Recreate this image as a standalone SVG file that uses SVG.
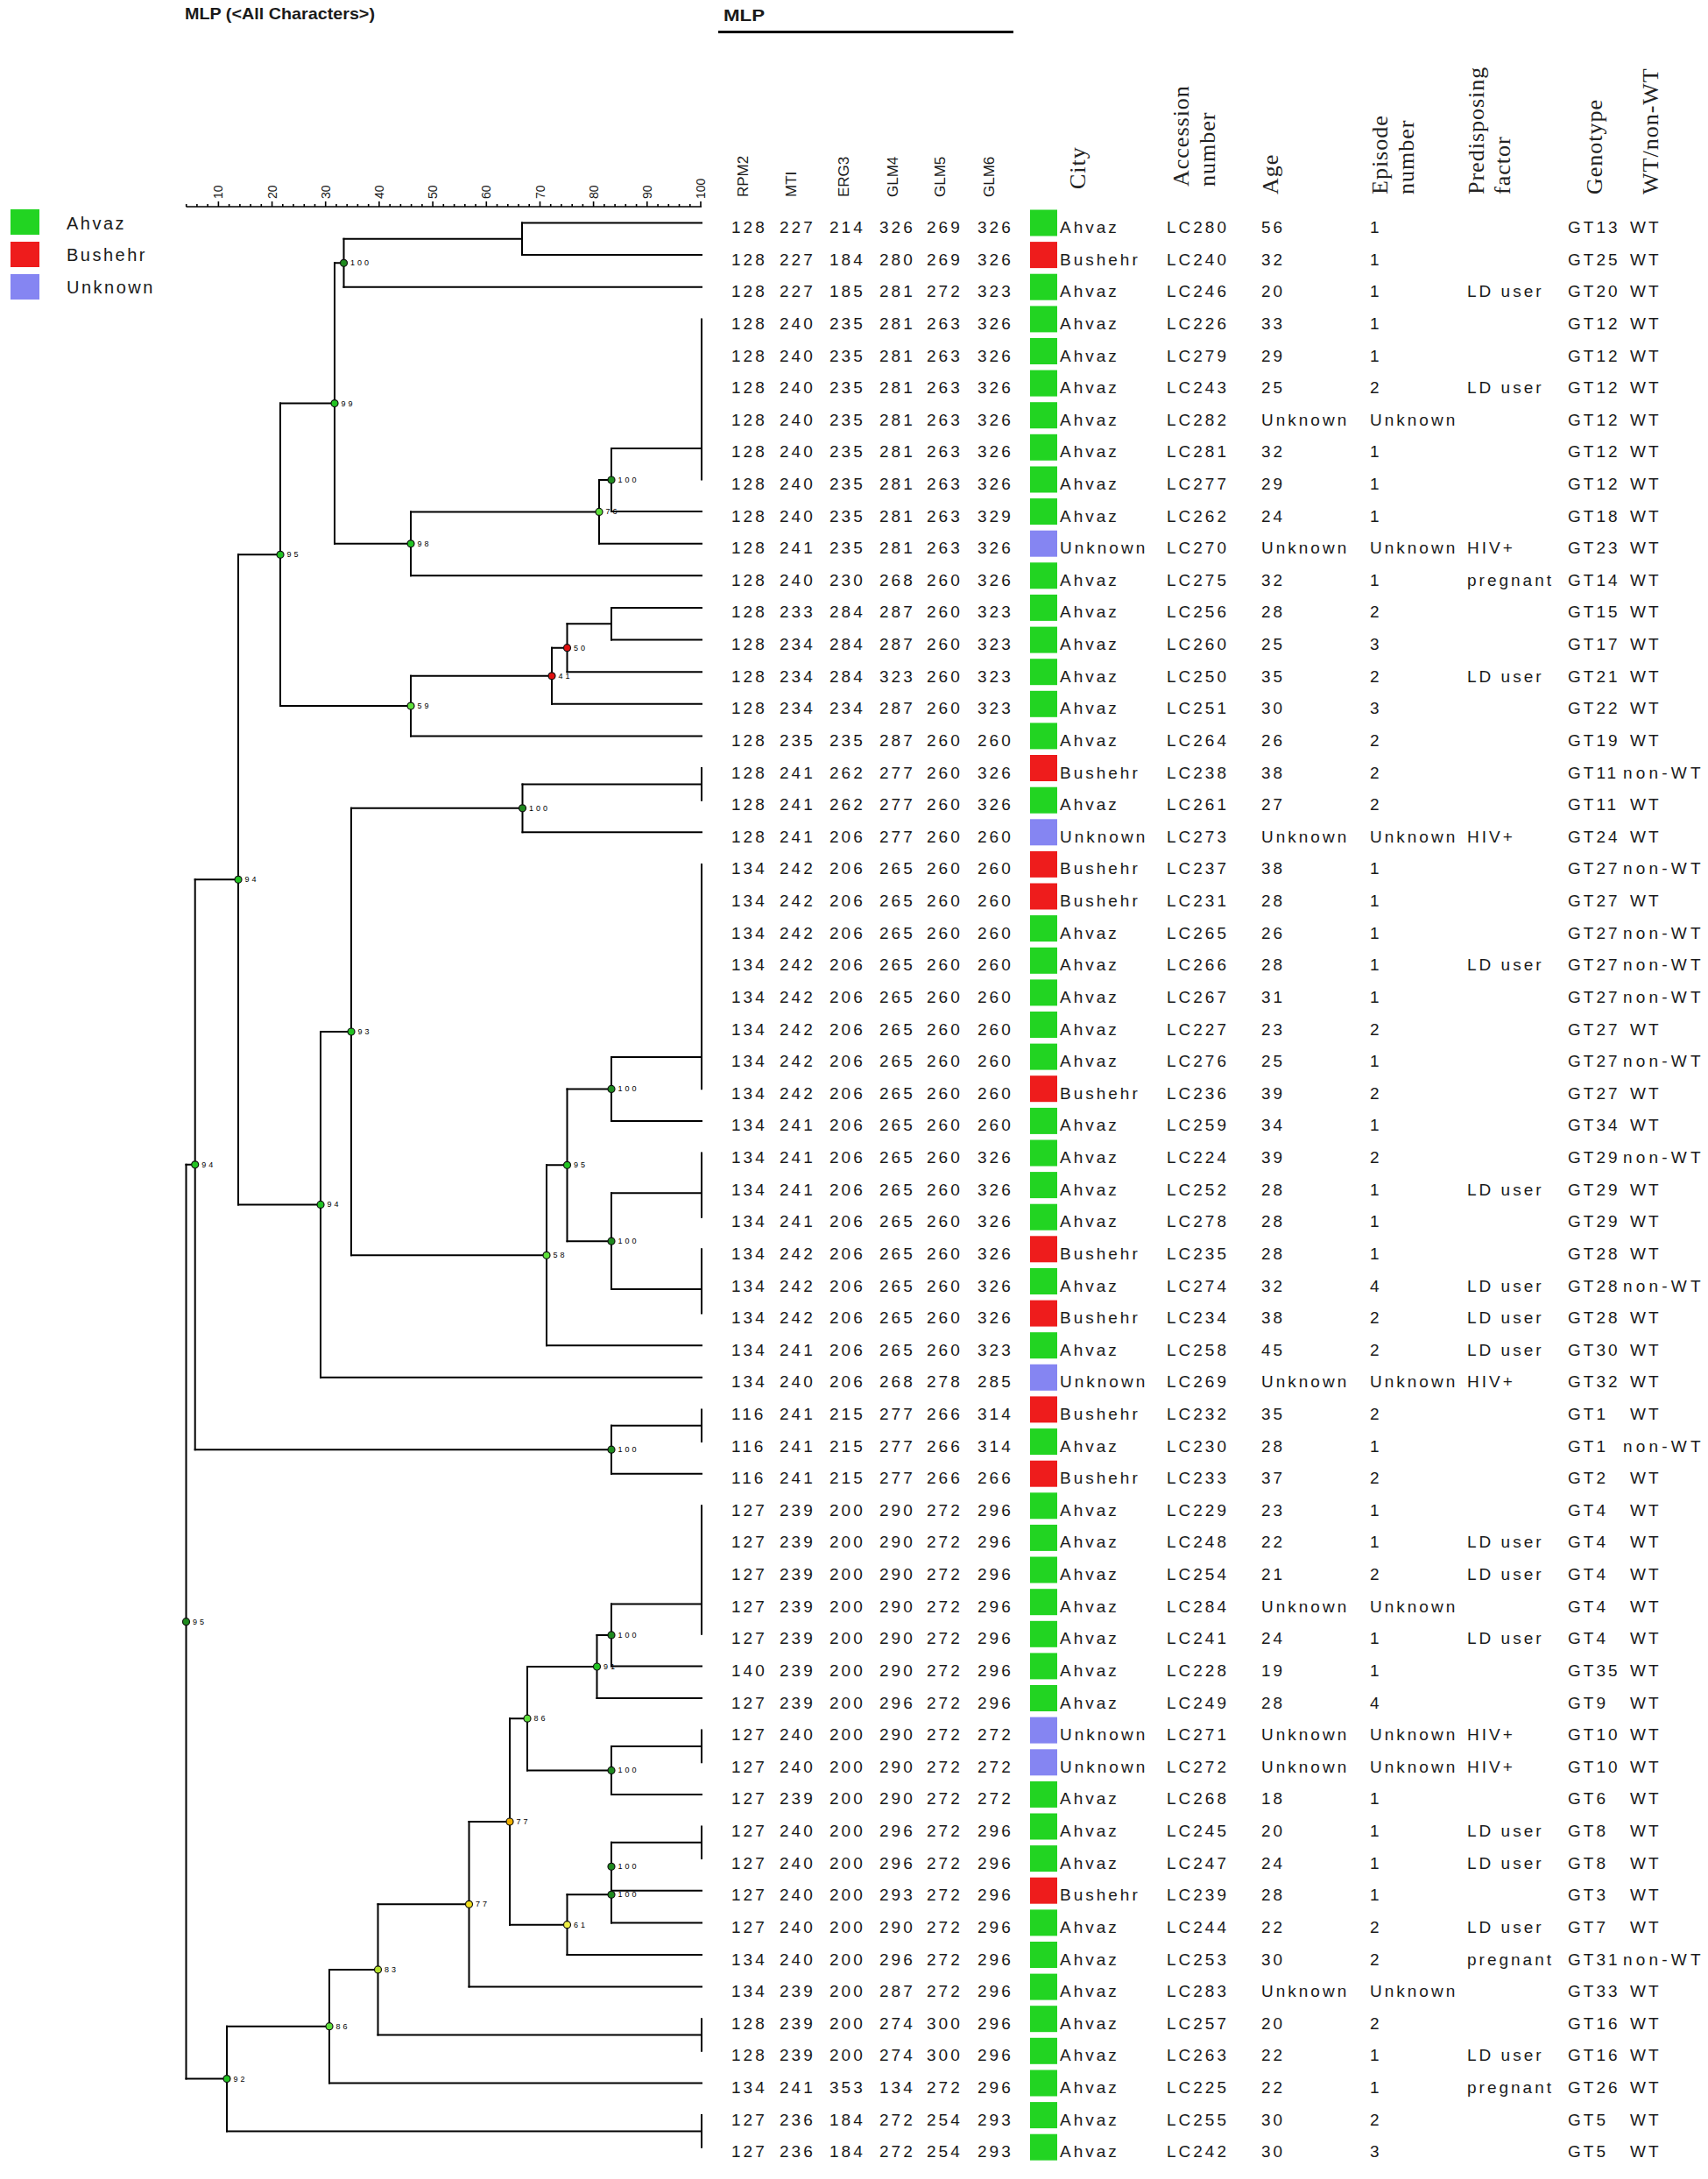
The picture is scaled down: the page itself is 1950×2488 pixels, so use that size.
<svg xmlns="http://www.w3.org/2000/svg" width="1950" height="2488" viewBox="0 0 1950 2488">
<style>
.ln{stroke:#000;stroke-width:2;fill:none;stroke-linecap:square}
.ax{stroke:#000;stroke-width:1.6;fill:none}
.nd{stroke:#111;stroke-width:1.2}
.bl{font-family:"Liberation Sans",Arial,sans-serif;font-size:9px;letter-spacing:3px;fill:#000}
.t{font-family:"Liberation Sans",Arial,sans-serif;font-size:19px;letter-spacing:3px;fill:#1a1a1a}
.nw{letter-spacing:4.2px}
.lg{font-family:"Liberation Sans",Arial,sans-serif;font-size:20px;letter-spacing:2.5px;fill:#1a1a1a}
.hs{font-family:"Liberation Sans",Arial,sans-serif;font-size:17px;fill:#1a1a1a}
.h{font-family:"Liberation Serif","Times New Roman",serif;font-size:26px;letter-spacing:1px;fill:#222}
.tt{font-family:"Liberation Sans",Arial,sans-serif;font-size:19px;font-weight:bold;fill:#1a1a1a}
.al{font-family:"Liberation Sans",Arial,sans-serif;font-size:14px;fill:#1a1a1a}
.ah{fill:#22d422}.bu{fill:#ee1c1c}.un{fill:#8585f2}
.c100{fill:#1e8a1e}.c9{fill:#22c322}.c8{fill:#5ee03a}.c83{fill:#b5e02a}.cy{fill:#f2e01e}.co{fill:#f0b000}.c6{fill:#eeee44}.cr{fill:#e01010}
</style>

<g id="titles">
<text class="tt" x="211" y="22" textLength="217" lengthAdjust="spacingAndGlyphs">MLP (&lt;All Characters&gt;)</text>
<text class="tt" x="826" y="24" textLength="47" lengthAdjust="spacingAndGlyphs">MLP</text>
<path d="M820 36.5H1157" stroke="#000" stroke-width="3"/>
</g>

<g id="legend">
<rect class="ah" x="12" y="239" width="33" height="29"/>
<rect class="bu" x="12" y="276" width="33" height="29"/>
<rect class="un" x="12" y="313" width="33" height="29"/>
<text class="lg" x="76" y="262">Ahvaz</text>
<text class="lg" x="76" y="298">Bushehr</text>
<text class="lg" x="76" y="335">Unknown</text>
</g>

<g id="scale">
<path class="ax" d="M212.5 236H801M249.4 230V236M310.6 230V236M371.7 230V236M432.9 230V236M494.1 230V236M555.3 230V236M616.5 230V236M677.6 230V236M738.8 230V236M800 230V236M212.7 233V236M224.9 233V236M237.1 233V236M261.6 233V236M273.9 233V236M286.1 233V236M298.3 233V236M322.8 233V236M335 233V236M347.3 233V236M359.5 233V236M384 233V236M396.2 233V236M408.4 233V236M420.7 233V236M445.2 233V236M457.4 233V236M469.6 233V236M481.9 233V236M506.3 233V236M518.6 233V236M530.8 233V236M543 233V236M567.5 233V236M579.8 233V236M592 233V236M604.2 233V236M628.7 233V236M640.9 233V236M653.2 233V236M665.4 233V236M689.9 233V236M702.1 233V236M714.3 233V236M726.6 233V236M751.1 233V236M763.3 233V236M775.5 233V236M787.8 233V236"/>
<text class="al" transform="translate(254.4,227) rotate(-90)">10</text>
<text class="al" transform="translate(315.6,227) rotate(-90)">20</text>
<text class="al" transform="translate(376.7,227) rotate(-90)">30</text>
<text class="al" transform="translate(437.9,227) rotate(-90)">40</text>
<text class="al" transform="translate(499.1,227) rotate(-90)">50</text>
<text class="al" transform="translate(560.3,227) rotate(-90)">60</text>
<text class="al" transform="translate(621.5,227) rotate(-90)">70</text>
<text class="al" transform="translate(682.6,227) rotate(-90)">80</text>
<text class="al" transform="translate(743.8,227) rotate(-90)">90</text>
<text class="al" transform="translate(805,227) rotate(-90)">100</text>
</g>

<g id="headers">
<text class="hs" transform="translate(854,225) rotate(-90)">RPM2</text>
<text class="hs" transform="translate(909,225) rotate(-90)">MTI</text>
<text class="hs" transform="translate(969,225) rotate(-90)">ERG3</text>
<text class="hs" transform="translate(1025,225) rotate(-90)">GLM4</text>
<text class="hs" transform="translate(1079,225) rotate(-90)">GLM5</text>
<text class="hs" transform="translate(1135,225) rotate(-90)">GLM6</text>
<text class="h" transform="translate(1238.5,216) rotate(-90)">City</text>
<text class="h" transform="translate(1357,213) rotate(-90)">Accession</text>
<text class="h" transform="translate(1387,213) rotate(-90)">number</text>
<text class="h" transform="translate(1458.5,222) rotate(-90)">Age</text>
<text class="h" transform="translate(1583.5,222) rotate(-90)">Episode</text>
<text class="h" transform="translate(1614,222) rotate(-90)">number</text>
<text class="h" transform="translate(1693.5,222) rotate(-90)">Predisposing</text>
<text class="h" transform="translate(1724,222) rotate(-90)">factor</text>
<text class="h" transform="translate(1828.5,222) rotate(-90)">Genotype</text>
<text class="h" transform="translate(1893,222) rotate(-90)">WT/non-WT</text>
</g>

<g id="connectors">
<path class="ln" d="M596 254.5V291.1M392.5 272.8V327.7M382 300.3V620.8M801 364.4V547.5M698 512V584.1M684 548V620.7M469 584.4V657.3M698 693.9V730.6M647.5 712.2V767.2M630 739.7V803.8M469 771.8V840.4M320 460.6V806.1M801 877V913.7M596.5 895.4V950.3M801 986.9V1243.2M698 1206.9V1279.9M801 1316.5V1389.7M801 1426.3V1499.6M698 1362.3V1472.1M647.5 1243.4V1417.2M624 1330.3V1536.2M401 922.8V1433.3M366 1178V1572.8M272 633.3V1375.4M801 1609.4V1646.1M698 1627.8V1682.7M222.7 1004.3V1655.2M801 1719.3V1865.8M698 1831.4V1902.4M681.5 1866.9V1939M801 1975.6V2012.3M698 1994V2048.9M602 1903V2021.4M801 2085.5V2122.1M698 2103.8V2195.4M647.5 2163.3V2232M582 1962.2V2197.7M535.5 2080V2268.6M801 2305.2V2341.8M431.5 2174.3V2323.5M376 2248.9V2378.5M801 2415.1V2451.7M259 2313.7V2433.4M212.5 1329.8V2373.6"/>
<path class="ln" d="M596 254.5H801M596 291.1H801M392.5 272.8H596M392.5 327.7H801M382 300.3H392.5M382 620.8H469M698 512H801M698 584.1H801M684 548H698M684 620.7H801M469 584.4H684M469 657.3H801M698 693.9H801M698 730.6H801M647.5 712.2H698M647.5 767.2H801M630 739.7H647.5M630 803.8H801M469 771.8H630M469 840.4H801M320 460.6H382M320 806.1H469M596.5 895.4H801M596.5 950.3H801M698 1206.9H801M698 1279.9H801M698 1362.3H801M698 1472.1H801M647.5 1243.4H698M647.5 1417.2H698M624 1330.3H647.5M624 1536.2H801M401 922.8H596.5M401 1433.3H624M366 1178H401M366 1572.8H801M272 633.3H320M272 1375.4H366M698 1627.8H801M698 1682.7H801M222.7 1004.3H272M222.7 1655.2H698M698 1831.4H801M698 1902.4H801M681.5 1866.9H698M681.5 1939H801M698 1994H801M698 2048.9H801M602 1903H681.5M602 2021.4H698M698 2103.8H801M698 2158.7H801M698 2195.4H801M647.5 2163.3H698M647.5 2232H801M582 1962.2H602M582 2197.7H647.5M535.5 2080H582M535.5 2268.6H801M431.5 2174.3H535.5M431.5 2323.5H801M376 2248.9H431.5M376 2378.5H801M259 2313.7H376M259 2433.4H801M212.5 1329.8H222.7M212.5 2373.6H259"/>
</g>

<g id="nodes">
<g id="n-B"><circle class="nd c100" cx="392.5" cy="300.3" r="4"/><text class="bl" x="400" y="303.3">100</text></g>
<g id="n-C"><circle class="nd c9" cx="382" cy="460.6" r="4"/><text class="bl" x="389.5" y="463.6">99</text></g>
<g id="n-D"><circle class="nd c9" cx="469" cy="620.8" r="4"/><text class="bl" x="476.5" y="623.8">98</text></g>
<g id="n-F"><circle class="nd c100" cx="698" cy="548" r="4"/><text class="bl" x="705.5" y="551">100</text></g>
<g id="n-E"><circle class="nd c8" cx="684" cy="584.4" r="4"/><text class="bl" x="691.5" y="587.4">76</text></g>
<g id="n-M"><circle class="nd c9" cx="320" cy="633.3" r="4"/><text class="bl" x="327.5" y="636.3">95</text></g>
<g id="n-K"><circle class="nd cr" cx="647.5" cy="739.7" r="4"/><text class="bl" x="655" y="742.7">50</text></g>
<g id="n-J"><circle class="nd cr" cx="630" cy="771.8" r="4"/><text class="bl" x="637.5" y="774.8">41</text></g>
<g id="n-I"><circle class="nd c8" cx="469" cy="806.1" r="4"/><text class="bl" x="476.5" y="809.1">59</text></g>
<g id="n-O"><circle class="nd c100" cx="596.5" cy="922.8" r="4"/><text class="bl" x="604" y="925.8">100</text></g>
<g id="n-N"><circle class="nd c9" cx="272" cy="1004.3" r="4"/><text class="bl" x="279.5" y="1007.3">94</text></g>
<g id="n-P"><circle class="nd c9" cx="401" cy="1178" r="4"/><text class="bl" x="408.5" y="1181">93</text></g>
<g id="n-S"><circle class="nd c100" cx="698" cy="1243.4" r="4"/><text class="bl" x="705.5" y="1246.4">100</text></g>
<g id="n-R"><circle class="nd c9" cx="647.5" cy="1330.3" r="4"/><text class="bl" x="655" y="1333.3">95</text></g>
<g id="n-V"><circle class="nd c9" cx="222.7" cy="1329.8" r="4"/><text class="bl" x="230.2" y="1332.8">94</text></g>
<g id="n-U"><circle class="nd c9" cx="366" cy="1375.4" r="4"/><text class="bl" x="373.5" y="1378.4">94</text></g>
<g id="n-T"><circle class="nd c100" cx="698" cy="1417.2" r="4"/><text class="bl" x="705.5" y="1420.2">100</text></g>
<g id="n-Q"><circle class="nd c8" cx="624" cy="1433.3" r="4"/><text class="bl" x="631.5" y="1436.3">58</text></g>
<g id="n-W"><circle class="nd c100" cx="698" cy="1655.2" r="4"/><text class="bl" x="705.5" y="1658.2">100</text></g>
<g id="n-X"><circle class="nd c100" cx="212.5" cy="1851.7" r="4"/><text class="bl" x="220" y="1854.7">95</text></g>
<g id="n-AH"><circle class="nd c100" cx="698" cy="1866.9" r="4"/><text class="bl" x="705.5" y="1869.9">100</text></g>
<g id="n-AF"><circle class="nd c9" cx="681.5" cy="1903" r="4"/><text class="bl" x="689" y="1906">91</text></g>
<g id="n-AD"><circle class="nd c8" cx="602" cy="1962.2" r="4"/><text class="bl" x="609.5" y="1965.2">86</text></g>
<g id="n-AG"><circle class="nd c100" cx="698" cy="2021.4" r="4"/><text class="bl" x="705.5" y="2024.4">100</text></g>
<g id="n-AC"><circle class="nd co" cx="582" cy="2080" r="4"/><text class="bl" x="589.5" y="2083">77</text></g>
<g id="n-AJ"><circle class="nd c100" cx="698" cy="2131.3" r="4"/><text class="bl" x="705.5" y="2134.3">100</text></g>
<g id="n-AI"><circle class="nd c100" cx="698" cy="2163.3" r="4"/><text class="bl" x="705.5" y="2166.3">100</text></g>
<g id="n-AB"><circle class="nd cy" cx="535.5" cy="2174.3" r="4"/><text class="bl" x="543" y="2177.3">77</text></g>
<g id="n-AE"><circle class="nd c6" cx="647.5" cy="2197.7" r="4"/><text class="bl" x="655" y="2200.7">61</text></g>
<g id="n-AA"><circle class="nd c83" cx="431.5" cy="2248.9" r="4"/><text class="bl" x="439" y="2251.9">83</text></g>
<g id="n-Z"><circle class="nd c8" cx="376" cy="2313.7" r="4"/><text class="bl" x="383.5" y="2316.7">86</text></g>
<g id="n-Y"><circle class="nd c9" cx="259" cy="2373.6" r="4"/><text class="bl" x="266.5" y="2376.6">92</text></g>
</g>

<g id="rows">
<g id="row-LC280" transform="translate(0,266)"><rect class="ah" x="1176" y="-26.5" width="31" height="30"/><text class="t"><tspan x="835">128</tspan><tspan x="890">227</tspan><tspan x="947">214</tspan><tspan x="1004">326</tspan><tspan x="1058">269</tspan><tspan x="1116">326</tspan><tspan x="1210">Ahvaz</tspan><tspan x="1332">LC280</tspan><tspan x="1440">56</tspan><tspan x="1564">1</tspan><tspan x="1790">GT13</tspan><tspan x="1861">WT</tspan></text></g>
<g id="row-LC240" transform="translate(0,302.6)"><rect class="bu" x="1176" y="-26.5" width="31" height="30"/><text class="t"><tspan x="835">128</tspan><tspan x="890">227</tspan><tspan x="947">184</tspan><tspan x="1004">280</tspan><tspan x="1058">269</tspan><tspan x="1116">326</tspan><tspan x="1210">Bushehr</tspan><tspan x="1332">LC240</tspan><tspan x="1440">32</tspan><tspan x="1564">1</tspan><tspan x="1790">GT25</tspan><tspan x="1861">WT</tspan></text></g>
<g id="row-LC246" transform="translate(0,339.2)"><rect class="ah" x="1176" y="-26.5" width="31" height="30"/><text class="t"><tspan x="835">128</tspan><tspan x="890">227</tspan><tspan x="947">185</tspan><tspan x="1004">281</tspan><tspan x="1058">272</tspan><tspan x="1116">323</tspan><tspan x="1210">Ahvaz</tspan><tspan x="1332">LC246</tspan><tspan x="1440">20</tspan><tspan x="1564">1</tspan><tspan x="1675">LD user</tspan><tspan x="1790">GT20</tspan><tspan x="1861">WT</tspan></text></g>
<g id="row-LC226" transform="translate(0,375.9)"><rect class="ah" x="1176" y="-26.5" width="31" height="30"/><text class="t"><tspan x="835">128</tspan><tspan x="890">240</tspan><tspan x="947">235</tspan><tspan x="1004">281</tspan><tspan x="1058">263</tspan><tspan x="1116">326</tspan><tspan x="1210">Ahvaz</tspan><tspan x="1332">LC226</tspan><tspan x="1440">33</tspan><tspan x="1564">1</tspan><tspan x="1790">GT12</tspan><tspan x="1861">WT</tspan></text></g>
<g id="row-LC279" transform="translate(0,412.5)"><rect class="ah" x="1176" y="-26.5" width="31" height="30"/><text class="t"><tspan x="835">128</tspan><tspan x="890">240</tspan><tspan x="947">235</tspan><tspan x="1004">281</tspan><tspan x="1058">263</tspan><tspan x="1116">326</tspan><tspan x="1210">Ahvaz</tspan><tspan x="1332">LC279</tspan><tspan x="1440">29</tspan><tspan x="1564">1</tspan><tspan x="1790">GT12</tspan><tspan x="1861">WT</tspan></text></g>
<g id="row-LC243" transform="translate(0,449.1)"><rect class="ah" x="1176" y="-26.5" width="31" height="30"/><text class="t"><tspan x="835">128</tspan><tspan x="890">240</tspan><tspan x="947">235</tspan><tspan x="1004">281</tspan><tspan x="1058">263</tspan><tspan x="1116">326</tspan><tspan x="1210">Ahvaz</tspan><tspan x="1332">LC243</tspan><tspan x="1440">25</tspan><tspan x="1564">2</tspan><tspan x="1675">LD user</tspan><tspan x="1790">GT12</tspan><tspan x="1861">WT</tspan></text></g>
<g id="row-LC282" transform="translate(0,485.7)"><rect class="ah" x="1176" y="-26.5" width="31" height="30"/><text class="t"><tspan x="835">128</tspan><tspan x="890">240</tspan><tspan x="947">235</tspan><tspan x="1004">281</tspan><tspan x="1058">263</tspan><tspan x="1116">326</tspan><tspan x="1210">Ahvaz</tspan><tspan x="1332">LC282</tspan><tspan x="1440">Unknown</tspan><tspan x="1564">Unknown</tspan><tspan x="1790">GT12</tspan><tspan x="1861">WT</tspan></text></g>
<g id="row-LC281" transform="translate(0,522.3)"><rect class="ah" x="1176" y="-26.5" width="31" height="30"/><text class="t"><tspan x="835">128</tspan><tspan x="890">240</tspan><tspan x="947">235</tspan><tspan x="1004">281</tspan><tspan x="1058">263</tspan><tspan x="1116">326</tspan><tspan x="1210">Ahvaz</tspan><tspan x="1332">LC281</tspan><tspan x="1440">32</tspan><tspan x="1564">1</tspan><tspan x="1790">GT12</tspan><tspan x="1861">WT</tspan></text></g>
<g id="row-LC277" transform="translate(0,559)"><rect class="ah" x="1176" y="-26.5" width="31" height="30"/><text class="t"><tspan x="835">128</tspan><tspan x="890">240</tspan><tspan x="947">235</tspan><tspan x="1004">281</tspan><tspan x="1058">263</tspan><tspan x="1116">326</tspan><tspan x="1210">Ahvaz</tspan><tspan x="1332">LC277</tspan><tspan x="1440">29</tspan><tspan x="1564">1</tspan><tspan x="1790">GT12</tspan><tspan x="1861">WT</tspan></text></g>
<g id="row-LC262" transform="translate(0,595.6)"><rect class="ah" x="1176" y="-26.5" width="31" height="30"/><text class="t"><tspan x="835">128</tspan><tspan x="890">240</tspan><tspan x="947">235</tspan><tspan x="1004">281</tspan><tspan x="1058">263</tspan><tspan x="1116">329</tspan><tspan x="1210">Ahvaz</tspan><tspan x="1332">LC262</tspan><tspan x="1440">24</tspan><tspan x="1564">1</tspan><tspan x="1790">GT18</tspan><tspan x="1861">WT</tspan></text></g>
<g id="row-LC270" transform="translate(0,632.2)"><rect class="un" x="1176" y="-26.5" width="31" height="30"/><text class="t"><tspan x="835">128</tspan><tspan x="890">241</tspan><tspan x="947">235</tspan><tspan x="1004">281</tspan><tspan x="1058">263</tspan><tspan x="1116">326</tspan><tspan x="1210">Unknown</tspan><tspan x="1332">LC270</tspan><tspan x="1440">Unknown</tspan><tspan x="1564">Unknown</tspan><tspan x="1675">HIV+</tspan><tspan x="1790">GT23</tspan><tspan x="1861">WT</tspan></text></g>
<g id="row-LC275" transform="translate(0,668.8)"><rect class="ah" x="1176" y="-26.5" width="31" height="30"/><text class="t"><tspan x="835">128</tspan><tspan x="890">240</tspan><tspan x="947">230</tspan><tspan x="1004">268</tspan><tspan x="1058">260</tspan><tspan x="1116">326</tspan><tspan x="1210">Ahvaz</tspan><tspan x="1332">LC275</tspan><tspan x="1440">32</tspan><tspan x="1564">1</tspan><tspan x="1675">pregnant</tspan><tspan x="1790">GT14</tspan><tspan x="1861">WT</tspan></text></g>
<g id="row-LC256" transform="translate(0,705.4)"><rect class="ah" x="1176" y="-26.5" width="31" height="30"/><text class="t"><tspan x="835">128</tspan><tspan x="890">233</tspan><tspan x="947">284</tspan><tspan x="1004">287</tspan><tspan x="1058">260</tspan><tspan x="1116">323</tspan><tspan x="1210">Ahvaz</tspan><tspan x="1332">LC256</tspan><tspan x="1440">28</tspan><tspan x="1564">2</tspan><tspan x="1790">GT15</tspan><tspan x="1861">WT</tspan></text></g>
<g id="row-LC260" transform="translate(0,742.1)"><rect class="ah" x="1176" y="-26.5" width="31" height="30"/><text class="t"><tspan x="835">128</tspan><tspan x="890">234</tspan><tspan x="947">284</tspan><tspan x="1004">287</tspan><tspan x="1058">260</tspan><tspan x="1116">323</tspan><tspan x="1210">Ahvaz</tspan><tspan x="1332">LC260</tspan><tspan x="1440">25</tspan><tspan x="1564">3</tspan><tspan x="1790">GT17</tspan><tspan x="1861">WT</tspan></text></g>
<g id="row-LC250" transform="translate(0,778.7)"><rect class="ah" x="1176" y="-26.5" width="31" height="30"/><text class="t"><tspan x="835">128</tspan><tspan x="890">234</tspan><tspan x="947">284</tspan><tspan x="1004">323</tspan><tspan x="1058">260</tspan><tspan x="1116">323</tspan><tspan x="1210">Ahvaz</tspan><tspan x="1332">LC250</tspan><tspan x="1440">35</tspan><tspan x="1564">2</tspan><tspan x="1675">LD user</tspan><tspan x="1790">GT21</tspan><tspan x="1861">WT</tspan></text></g>
<g id="row-LC251" transform="translate(0,815.3)"><rect class="ah" x="1176" y="-26.5" width="31" height="30"/><text class="t"><tspan x="835">128</tspan><tspan x="890">234</tspan><tspan x="947">234</tspan><tspan x="1004">287</tspan><tspan x="1058">260</tspan><tspan x="1116">323</tspan><tspan x="1210">Ahvaz</tspan><tspan x="1332">LC251</tspan><tspan x="1440">30</tspan><tspan x="1564">3</tspan><tspan x="1790">GT22</tspan><tspan x="1861">WT</tspan></text></g>
<g id="row-LC264" transform="translate(0,851.9)"><rect class="ah" x="1176" y="-26.5" width="31" height="30"/><text class="t"><tspan x="835">128</tspan><tspan x="890">235</tspan><tspan x="947">235</tspan><tspan x="1004">287</tspan><tspan x="1058">260</tspan><tspan x="1116">260</tspan><tspan x="1210">Ahvaz</tspan><tspan x="1332">LC264</tspan><tspan x="1440">26</tspan><tspan x="1564">2</tspan><tspan x="1790">GT19</tspan><tspan x="1861">WT</tspan></text></g>
<g id="row-LC238" transform="translate(0,888.5)"><rect class="bu" x="1176" y="-26.5" width="31" height="30"/><text class="t"><tspan x="835">128</tspan><tspan x="890">241</tspan><tspan x="947">262</tspan><tspan x="1004">277</tspan><tspan x="1058">260</tspan><tspan x="1116">326</tspan><tspan x="1210">Bushehr</tspan><tspan x="1332">LC238</tspan><tspan x="1440">38</tspan><tspan x="1564">2</tspan><tspan x="1790">GT11</tspan><tspan class="nw" x="1853">non-WT</tspan></text></g>
<g id="row-LC261" transform="translate(0,925.2)"><rect class="ah" x="1176" y="-26.5" width="31" height="30"/><text class="t"><tspan x="835">128</tspan><tspan x="890">241</tspan><tspan x="947">262</tspan><tspan x="1004">277</tspan><tspan x="1058">260</tspan><tspan x="1116">326</tspan><tspan x="1210">Ahvaz</tspan><tspan x="1332">LC261</tspan><tspan x="1440">27</tspan><tspan x="1564">2</tspan><tspan x="1790">GT11</tspan><tspan x="1861">WT</tspan></text></g>
<g id="row-LC273" transform="translate(0,961.8)"><rect class="un" x="1176" y="-26.5" width="31" height="30"/><text class="t"><tspan x="835">128</tspan><tspan x="890">241</tspan><tspan x="947">206</tspan><tspan x="1004">277</tspan><tspan x="1058">260</tspan><tspan x="1116">260</tspan><tspan x="1210">Unknown</tspan><tspan x="1332">LC273</tspan><tspan x="1440">Unknown</tspan><tspan x="1564">Unknown</tspan><tspan x="1675">HIV+</tspan><tspan x="1790">GT24</tspan><tspan x="1861">WT</tspan></text></g>
<g id="row-LC237" transform="translate(0,998.4)"><rect class="bu" x="1176" y="-26.5" width="31" height="30"/><text class="t"><tspan x="835">134</tspan><tspan x="890">242</tspan><tspan x="947">206</tspan><tspan x="1004">265</tspan><tspan x="1058">260</tspan><tspan x="1116">260</tspan><tspan x="1210">Bushehr</tspan><tspan x="1332">LC237</tspan><tspan x="1440">38</tspan><tspan x="1564">1</tspan><tspan x="1790">GT27</tspan><tspan class="nw" x="1853">non-WT</tspan></text></g>
<g id="row-LC231" transform="translate(0,1035)"><rect class="bu" x="1176" y="-26.5" width="31" height="30"/><text class="t"><tspan x="835">134</tspan><tspan x="890">242</tspan><tspan x="947">206</tspan><tspan x="1004">265</tspan><tspan x="1058">260</tspan><tspan x="1116">260</tspan><tspan x="1210">Bushehr</tspan><tspan x="1332">LC231</tspan><tspan x="1440">28</tspan><tspan x="1564">1</tspan><tspan x="1790">GT27</tspan><tspan x="1861">WT</tspan></text></g>
<g id="row-LC265" transform="translate(0,1071.6)"><rect class="ah" x="1176" y="-26.5" width="31" height="30"/><text class="t"><tspan x="835">134</tspan><tspan x="890">242</tspan><tspan x="947">206</tspan><tspan x="1004">265</tspan><tspan x="1058">260</tspan><tspan x="1116">260</tspan><tspan x="1210">Ahvaz</tspan><tspan x="1332">LC265</tspan><tspan x="1440">26</tspan><tspan x="1564">1</tspan><tspan x="1790">GT27</tspan><tspan class="nw" x="1853">non-WT</tspan></text></g>
<g id="row-LC266" transform="translate(0,1108.3)"><rect class="ah" x="1176" y="-26.5" width="31" height="30"/><text class="t"><tspan x="835">134</tspan><tspan x="890">242</tspan><tspan x="947">206</tspan><tspan x="1004">265</tspan><tspan x="1058">260</tspan><tspan x="1116">260</tspan><tspan x="1210">Ahvaz</tspan><tspan x="1332">LC266</tspan><tspan x="1440">28</tspan><tspan x="1564">1</tspan><tspan x="1675">LD user</tspan><tspan x="1790">GT27</tspan><tspan class="nw" x="1853">non-WT</tspan></text></g>
<g id="row-LC267" transform="translate(0,1144.9)"><rect class="ah" x="1176" y="-26.5" width="31" height="30"/><text class="t"><tspan x="835">134</tspan><tspan x="890">242</tspan><tspan x="947">206</tspan><tspan x="1004">265</tspan><tspan x="1058">260</tspan><tspan x="1116">260</tspan><tspan x="1210">Ahvaz</tspan><tspan x="1332">LC267</tspan><tspan x="1440">31</tspan><tspan x="1564">1</tspan><tspan x="1790">GT27</tspan><tspan class="nw" x="1853">non-WT</tspan></text></g>
<g id="row-LC227" transform="translate(0,1181.5)"><rect class="ah" x="1176" y="-26.5" width="31" height="30"/><text class="t"><tspan x="835">134</tspan><tspan x="890">242</tspan><tspan x="947">206</tspan><tspan x="1004">265</tspan><tspan x="1058">260</tspan><tspan x="1116">260</tspan><tspan x="1210">Ahvaz</tspan><tspan x="1332">LC227</tspan><tspan x="1440">23</tspan><tspan x="1564">2</tspan><tspan x="1790">GT27</tspan><tspan x="1861">WT</tspan></text></g>
<g id="row-LC276" transform="translate(0,1218.1)"><rect class="ah" x="1176" y="-26.5" width="31" height="30"/><text class="t"><tspan x="835">134</tspan><tspan x="890">242</tspan><tspan x="947">206</tspan><tspan x="1004">265</tspan><tspan x="1058">260</tspan><tspan x="1116">260</tspan><tspan x="1210">Ahvaz</tspan><tspan x="1332">LC276</tspan><tspan x="1440">25</tspan><tspan x="1564">1</tspan><tspan x="1790">GT27</tspan><tspan class="nw" x="1853">non-WT</tspan></text></g>
<g id="row-LC236" transform="translate(0,1254.7)"><rect class="bu" x="1176" y="-26.5" width="31" height="30"/><text class="t"><tspan x="835">134</tspan><tspan x="890">242</tspan><tspan x="947">206</tspan><tspan x="1004">265</tspan><tspan x="1058">260</tspan><tspan x="1116">260</tspan><tspan x="1210">Bushehr</tspan><tspan x="1332">LC236</tspan><tspan x="1440">39</tspan><tspan x="1564">2</tspan><tspan x="1790">GT27</tspan><tspan x="1861">WT</tspan></text></g>
<g id="row-LC259" transform="translate(0,1291.4)"><rect class="ah" x="1176" y="-26.5" width="31" height="30"/><text class="t"><tspan x="835">134</tspan><tspan x="890">241</tspan><tspan x="947">206</tspan><tspan x="1004">265</tspan><tspan x="1058">260</tspan><tspan x="1116">260</tspan><tspan x="1210">Ahvaz</tspan><tspan x="1332">LC259</tspan><tspan x="1440">34</tspan><tspan x="1564">1</tspan><tspan x="1790">GT34</tspan><tspan x="1861">WT</tspan></text></g>
<g id="row-LC224" transform="translate(0,1328)"><rect class="ah" x="1176" y="-26.5" width="31" height="30"/><text class="t"><tspan x="835">134</tspan><tspan x="890">241</tspan><tspan x="947">206</tspan><tspan x="1004">265</tspan><tspan x="1058">260</tspan><tspan x="1116">326</tspan><tspan x="1210">Ahvaz</tspan><tspan x="1332">LC224</tspan><tspan x="1440">39</tspan><tspan x="1564">2</tspan><tspan x="1790">GT29</tspan><tspan class="nw" x="1853">non-WT</tspan></text></g>
<g id="row-LC252" transform="translate(0,1364.6)"><rect class="ah" x="1176" y="-26.5" width="31" height="30"/><text class="t"><tspan x="835">134</tspan><tspan x="890">241</tspan><tspan x="947">206</tspan><tspan x="1004">265</tspan><tspan x="1058">260</tspan><tspan x="1116">326</tspan><tspan x="1210">Ahvaz</tspan><tspan x="1332">LC252</tspan><tspan x="1440">28</tspan><tspan x="1564">1</tspan><tspan x="1675">LD user</tspan><tspan x="1790">GT29</tspan><tspan x="1861">WT</tspan></text></g>
<g id="row-LC278" transform="translate(0,1401.2)"><rect class="ah" x="1176" y="-26.5" width="31" height="30"/><text class="t"><tspan x="835">134</tspan><tspan x="890">241</tspan><tspan x="947">206</tspan><tspan x="1004">265</tspan><tspan x="1058">260</tspan><tspan x="1116">326</tspan><tspan x="1210">Ahvaz</tspan><tspan x="1332">LC278</tspan><tspan x="1440">28</tspan><tspan x="1564">1</tspan><tspan x="1790">GT29</tspan><tspan x="1861">WT</tspan></text></g>
<g id="row-LC235" transform="translate(0,1437.8)"><rect class="bu" x="1176" y="-26.5" width="31" height="30"/><text class="t"><tspan x="835">134</tspan><tspan x="890">242</tspan><tspan x="947">206</tspan><tspan x="1004">265</tspan><tspan x="1058">260</tspan><tspan x="1116">326</tspan><tspan x="1210">Bushehr</tspan><tspan x="1332">LC235</tspan><tspan x="1440">28</tspan><tspan x="1564">1</tspan><tspan x="1790">GT28</tspan><tspan x="1861">WT</tspan></text></g>
<g id="row-LC274" transform="translate(0,1474.5)"><rect class="ah" x="1176" y="-26.5" width="31" height="30"/><text class="t"><tspan x="835">134</tspan><tspan x="890">242</tspan><tspan x="947">206</tspan><tspan x="1004">265</tspan><tspan x="1058">260</tspan><tspan x="1116">326</tspan><tspan x="1210">Ahvaz</tspan><tspan x="1332">LC274</tspan><tspan x="1440">32</tspan><tspan x="1564">4</tspan><tspan x="1675">LD user</tspan><tspan x="1790">GT28</tspan><tspan class="nw" x="1853">non-WT</tspan></text></g>
<g id="row-LC234" transform="translate(0,1511.1)"><rect class="bu" x="1176" y="-26.5" width="31" height="30"/><text class="t"><tspan x="835">134</tspan><tspan x="890">242</tspan><tspan x="947">206</tspan><tspan x="1004">265</tspan><tspan x="1058">260</tspan><tspan x="1116">326</tspan><tspan x="1210">Bushehr</tspan><tspan x="1332">LC234</tspan><tspan x="1440">38</tspan><tspan x="1564">2</tspan><tspan x="1675">LD user</tspan><tspan x="1790">GT28</tspan><tspan x="1861">WT</tspan></text></g>
<g id="row-LC258" transform="translate(0,1547.7)"><rect class="ah" x="1176" y="-26.5" width="31" height="30"/><text class="t"><tspan x="835">134</tspan><tspan x="890">241</tspan><tspan x="947">206</tspan><tspan x="1004">265</tspan><tspan x="1058">260</tspan><tspan x="1116">323</tspan><tspan x="1210">Ahvaz</tspan><tspan x="1332">LC258</tspan><tspan x="1440">45</tspan><tspan x="1564">2</tspan><tspan x="1675">LD user</tspan><tspan x="1790">GT30</tspan><tspan x="1861">WT</tspan></text></g>
<g id="row-LC269" transform="translate(0,1584.3)"><rect class="un" x="1176" y="-26.5" width="31" height="30"/><text class="t"><tspan x="835">134</tspan><tspan x="890">240</tspan><tspan x="947">206</tspan><tspan x="1004">268</tspan><tspan x="1058">278</tspan><tspan x="1116">285</tspan><tspan x="1210">Unknown</tspan><tspan x="1332">LC269</tspan><tspan x="1440">Unknown</tspan><tspan x="1564">Unknown</tspan><tspan x="1675">HIV+</tspan><tspan x="1790">GT32</tspan><tspan x="1861">WT</tspan></text></g>
<g id="row-LC232" transform="translate(0,1620.9)"><rect class="bu" x="1176" y="-26.5" width="31" height="30"/><text class="t"><tspan x="835">116</tspan><tspan x="890">241</tspan><tspan x="947">215</tspan><tspan x="1004">277</tspan><tspan x="1058">266</tspan><tspan x="1116">314</tspan><tspan x="1210">Bushehr</tspan><tspan x="1332">LC232</tspan><tspan x="1440">35</tspan><tspan x="1564">2</tspan><tspan x="1790">GT1</tspan><tspan x="1861">WT</tspan></text></g>
<g id="row-LC230" transform="translate(0,1657.6)"><rect class="ah" x="1176" y="-26.5" width="31" height="30"/><text class="t"><tspan x="835">116</tspan><tspan x="890">241</tspan><tspan x="947">215</tspan><tspan x="1004">277</tspan><tspan x="1058">266</tspan><tspan x="1116">314</tspan><tspan x="1210">Ahvaz</tspan><tspan x="1332">LC230</tspan><tspan x="1440">28</tspan><tspan x="1564">1</tspan><tspan x="1790">GT1</tspan><tspan class="nw" x="1853">non-WT</tspan></text></g>
<g id="row-LC233" transform="translate(0,1694.2)"><rect class="bu" x="1176" y="-26.5" width="31" height="30"/><text class="t"><tspan x="835">116</tspan><tspan x="890">241</tspan><tspan x="947">215</tspan><tspan x="1004">277</tspan><tspan x="1058">266</tspan><tspan x="1116">266</tspan><tspan x="1210">Bushehr</tspan><tspan x="1332">LC233</tspan><tspan x="1440">37</tspan><tspan x="1564">2</tspan><tspan x="1790">GT2</tspan><tspan x="1861">WT</tspan></text></g>
<g id="row-LC229" transform="translate(0,1730.8)"><rect class="ah" x="1176" y="-26.5" width="31" height="30"/><text class="t"><tspan x="835">127</tspan><tspan x="890">239</tspan><tspan x="947">200</tspan><tspan x="1004">290</tspan><tspan x="1058">272</tspan><tspan x="1116">296</tspan><tspan x="1210">Ahvaz</tspan><tspan x="1332">LC229</tspan><tspan x="1440">23</tspan><tspan x="1564">1</tspan><tspan x="1790">GT4</tspan><tspan x="1861">WT</tspan></text></g>
<g id="row-LC248" transform="translate(0,1767.4)"><rect class="ah" x="1176" y="-26.5" width="31" height="30"/><text class="t"><tspan x="835">127</tspan><tspan x="890">239</tspan><tspan x="947">200</tspan><tspan x="1004">290</tspan><tspan x="1058">272</tspan><tspan x="1116">296</tspan><tspan x="1210">Ahvaz</tspan><tspan x="1332">LC248</tspan><tspan x="1440">22</tspan><tspan x="1564">1</tspan><tspan x="1675">LD user</tspan><tspan x="1790">GT4</tspan><tspan x="1861">WT</tspan></text></g>
<g id="row-LC254" transform="translate(0,1804)"><rect class="ah" x="1176" y="-26.5" width="31" height="30"/><text class="t"><tspan x="835">127</tspan><tspan x="890">239</tspan><tspan x="947">200</tspan><tspan x="1004">290</tspan><tspan x="1058">272</tspan><tspan x="1116">296</tspan><tspan x="1210">Ahvaz</tspan><tspan x="1332">LC254</tspan><tspan x="1440">21</tspan><tspan x="1564">2</tspan><tspan x="1675">LD user</tspan><tspan x="1790">GT4</tspan><tspan x="1861">WT</tspan></text></g>
<g id="row-LC284" transform="translate(0,1840.7)"><rect class="ah" x="1176" y="-26.5" width="31" height="30"/><text class="t"><tspan x="835">127</tspan><tspan x="890">239</tspan><tspan x="947">200</tspan><tspan x="1004">290</tspan><tspan x="1058">272</tspan><tspan x="1116">296</tspan><tspan x="1210">Ahvaz</tspan><tspan x="1332">LC284</tspan><tspan x="1440">Unknown</tspan><tspan x="1564">Unknown</tspan><tspan x="1790">GT4</tspan><tspan x="1861">WT</tspan></text></g>
<g id="row-LC241" transform="translate(0,1877.3)"><rect class="ah" x="1176" y="-26.5" width="31" height="30"/><text class="t"><tspan x="835">127</tspan><tspan x="890">239</tspan><tspan x="947">200</tspan><tspan x="1004">290</tspan><tspan x="1058">272</tspan><tspan x="1116">296</tspan><tspan x="1210">Ahvaz</tspan><tspan x="1332">LC241</tspan><tspan x="1440">24</tspan><tspan x="1564">1</tspan><tspan x="1675">LD user</tspan><tspan x="1790">GT4</tspan><tspan x="1861">WT</tspan></text></g>
<g id="row-LC228" transform="translate(0,1913.9)"><rect class="ah" x="1176" y="-26.5" width="31" height="30"/><text class="t"><tspan x="835">140</tspan><tspan x="890">239</tspan><tspan x="947">200</tspan><tspan x="1004">290</tspan><tspan x="1058">272</tspan><tspan x="1116">296</tspan><tspan x="1210">Ahvaz</tspan><tspan x="1332">LC228</tspan><tspan x="1440">19</tspan><tspan x="1564">1</tspan><tspan x="1790">GT35</tspan><tspan x="1861">WT</tspan></text></g>
<g id="row-LC249" transform="translate(0,1950.5)"><rect class="ah" x="1176" y="-26.5" width="31" height="30"/><text class="t"><tspan x="835">127</tspan><tspan x="890">239</tspan><tspan x="947">200</tspan><tspan x="1004">296</tspan><tspan x="1058">272</tspan><tspan x="1116">296</tspan><tspan x="1210">Ahvaz</tspan><tspan x="1332">LC249</tspan><tspan x="1440">28</tspan><tspan x="1564">4</tspan><tspan x="1790">GT9</tspan><tspan x="1861">WT</tspan></text></g>
<g id="row-LC271" transform="translate(0,1987.1)"><rect class="un" x="1176" y="-26.5" width="31" height="30"/><text class="t"><tspan x="835">127</tspan><tspan x="890">240</tspan><tspan x="947">200</tspan><tspan x="1004">290</tspan><tspan x="1058">272</tspan><tspan x="1116">272</tspan><tspan x="1210">Unknown</tspan><tspan x="1332">LC271</tspan><tspan x="1440">Unknown</tspan><tspan x="1564">Unknown</tspan><tspan x="1675">HIV+</tspan><tspan x="1790">GT10</tspan><tspan x="1861">WT</tspan></text></g>
<g id="row-LC272" transform="translate(0,2023.8)"><rect class="un" x="1176" y="-26.5" width="31" height="30"/><text class="t"><tspan x="835">127</tspan><tspan x="890">240</tspan><tspan x="947">200</tspan><tspan x="1004">290</tspan><tspan x="1058">272</tspan><tspan x="1116">272</tspan><tspan x="1210">Unknown</tspan><tspan x="1332">LC272</tspan><tspan x="1440">Unknown</tspan><tspan x="1564">Unknown</tspan><tspan x="1675">HIV+</tspan><tspan x="1790">GT10</tspan><tspan x="1861">WT</tspan></text></g>
<g id="row-LC268" transform="translate(0,2060.4)"><rect class="ah" x="1176" y="-26.5" width="31" height="30"/><text class="t"><tspan x="835">127</tspan><tspan x="890">239</tspan><tspan x="947">200</tspan><tspan x="1004">290</tspan><tspan x="1058">272</tspan><tspan x="1116">272</tspan><tspan x="1210">Ahvaz</tspan><tspan x="1332">LC268</tspan><tspan x="1440">18</tspan><tspan x="1564">1</tspan><tspan x="1790">GT6</tspan><tspan x="1861">WT</tspan></text></g>
<g id="row-LC245" transform="translate(0,2097)"><rect class="ah" x="1176" y="-26.5" width="31" height="30"/><text class="t"><tspan x="835">127</tspan><tspan x="890">240</tspan><tspan x="947">200</tspan><tspan x="1004">296</tspan><tspan x="1058">272</tspan><tspan x="1116">296</tspan><tspan x="1210">Ahvaz</tspan><tspan x="1332">LC245</tspan><tspan x="1440">20</tspan><tspan x="1564">1</tspan><tspan x="1675">LD user</tspan><tspan x="1790">GT8</tspan><tspan x="1861">WT</tspan></text></g>
<g id="row-LC247" transform="translate(0,2133.6)"><rect class="ah" x="1176" y="-26.5" width="31" height="30"/><text class="t"><tspan x="835">127</tspan><tspan x="890">240</tspan><tspan x="947">200</tspan><tspan x="1004">296</tspan><tspan x="1058">272</tspan><tspan x="1116">296</tspan><tspan x="1210">Ahvaz</tspan><tspan x="1332">LC247</tspan><tspan x="1440">24</tspan><tspan x="1564">1</tspan><tspan x="1675">LD user</tspan><tspan x="1790">GT8</tspan><tspan x="1861">WT</tspan></text></g>
<g id="row-LC239" transform="translate(0,2170.2)"><rect class="bu" x="1176" y="-26.5" width="31" height="30"/><text class="t"><tspan x="835">127</tspan><tspan x="890">240</tspan><tspan x="947">200</tspan><tspan x="1004">293</tspan><tspan x="1058">272</tspan><tspan x="1116">296</tspan><tspan x="1210">Bushehr</tspan><tspan x="1332">LC239</tspan><tspan x="1440">28</tspan><tspan x="1564">1</tspan><tspan x="1790">GT3</tspan><tspan x="1861">WT</tspan></text></g>
<g id="row-LC244" transform="translate(0,2206.9)"><rect class="ah" x="1176" y="-26.5" width="31" height="30"/><text class="t"><tspan x="835">127</tspan><tspan x="890">240</tspan><tspan x="947">200</tspan><tspan x="1004">290</tspan><tspan x="1058">272</tspan><tspan x="1116">296</tspan><tspan x="1210">Ahvaz</tspan><tspan x="1332">LC244</tspan><tspan x="1440">22</tspan><tspan x="1564">2</tspan><tspan x="1675">LD user</tspan><tspan x="1790">GT7</tspan><tspan x="1861">WT</tspan></text></g>
<g id="row-LC253" transform="translate(0,2243.5)"><rect class="ah" x="1176" y="-26.5" width="31" height="30"/><text class="t"><tspan x="835">134</tspan><tspan x="890">240</tspan><tspan x="947">200</tspan><tspan x="1004">296</tspan><tspan x="1058">272</tspan><tspan x="1116">296</tspan><tspan x="1210">Ahvaz</tspan><tspan x="1332">LC253</tspan><tspan x="1440">30</tspan><tspan x="1564">2</tspan><tspan x="1675">pregnant</tspan><tspan x="1790">GT31</tspan><tspan class="nw" x="1853">non-WT</tspan></text></g>
<g id="row-LC283" transform="translate(0,2280.1)"><rect class="ah" x="1176" y="-26.5" width="31" height="30"/><text class="t"><tspan x="835">134</tspan><tspan x="890">239</tspan><tspan x="947">200</tspan><tspan x="1004">287</tspan><tspan x="1058">272</tspan><tspan x="1116">296</tspan><tspan x="1210">Ahvaz</tspan><tspan x="1332">LC283</tspan><tspan x="1440">Unknown</tspan><tspan x="1564">Unknown</tspan><tspan x="1790">GT33</tspan><tspan x="1861">WT</tspan></text></g>
<g id="row-LC257" transform="translate(0,2316.7)"><rect class="ah" x="1176" y="-26.5" width="31" height="30"/><text class="t"><tspan x="835">128</tspan><tspan x="890">239</tspan><tspan x="947">200</tspan><tspan x="1004">274</tspan><tspan x="1058">300</tspan><tspan x="1116">296</tspan><tspan x="1210">Ahvaz</tspan><tspan x="1332">LC257</tspan><tspan x="1440">20</tspan><tspan x="1564">2</tspan><tspan x="1790">GT16</tspan><tspan x="1861">WT</tspan></text></g>
<g id="row-LC263" transform="translate(0,2353.3)"><rect class="ah" x="1176" y="-26.5" width="31" height="30"/><text class="t"><tspan x="835">128</tspan><tspan x="890">239</tspan><tspan x="947">200</tspan><tspan x="1004">274</tspan><tspan x="1058">300</tspan><tspan x="1116">296</tspan><tspan x="1210">Ahvaz</tspan><tspan x="1332">LC263</tspan><tspan x="1440">22</tspan><tspan x="1564">1</tspan><tspan x="1675">LD user</tspan><tspan x="1790">GT16</tspan><tspan x="1861">WT</tspan></text></g>
<g id="row-LC225" transform="translate(0,2390)"><rect class="ah" x="1176" y="-26.5" width="31" height="30"/><text class="t"><tspan x="835">134</tspan><tspan x="890">241</tspan><tspan x="947">353</tspan><tspan x="1004">134</tspan><tspan x="1058">272</tspan><tspan x="1116">296</tspan><tspan x="1210">Ahvaz</tspan><tspan x="1332">LC225</tspan><tspan x="1440">22</tspan><tspan x="1564">1</tspan><tspan x="1675">pregnant</tspan><tspan x="1790">GT26</tspan><tspan x="1861">WT</tspan></text></g>
<g id="row-LC255" transform="translate(0,2426.6)"><rect class="ah" x="1176" y="-26.5" width="31" height="30"/><text class="t"><tspan x="835">127</tspan><tspan x="890">236</tspan><tspan x="947">184</tspan><tspan x="1004">272</tspan><tspan x="1058">254</tspan><tspan x="1116">293</tspan><tspan x="1210">Ahvaz</tspan><tspan x="1332">LC255</tspan><tspan x="1440">30</tspan><tspan x="1564">2</tspan><tspan x="1790">GT5</tspan><tspan x="1861">WT</tspan></text></g>
<g id="row-LC242" transform="translate(0,2463.2)"><rect class="ah" x="1176" y="-26.5" width="31" height="30"/><text class="t"><tspan x="835">127</tspan><tspan x="890">236</tspan><tspan x="947">184</tspan><tspan x="1004">272</tspan><tspan x="1058">254</tspan><tspan x="1116">293</tspan><tspan x="1210">Ahvaz</tspan><tspan x="1332">LC242</tspan><tspan x="1440">30</tspan><tspan x="1564">3</tspan><tspan x="1790">GT5</tspan><tspan x="1861">WT</tspan></text></g>
</g>
</svg>
